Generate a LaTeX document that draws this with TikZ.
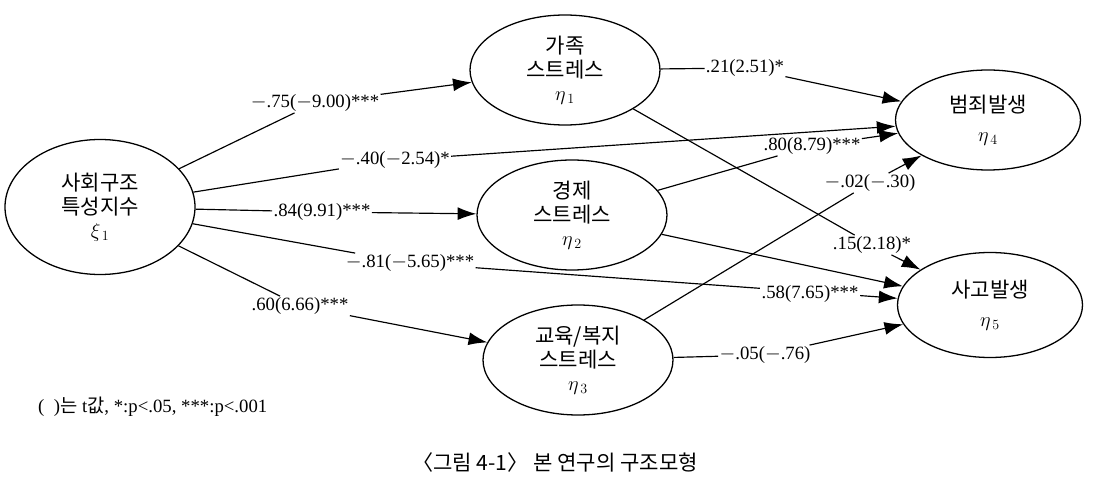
\documentclass[tikz,border=0pt]{standalone}
\usepackage{fontspec}
\setmainfont{Liberation Serif}
\newfontfamily\kr{Noto Sans CJK KR}
\usetikzlibrary{arrows.meta,shapes.geometric}
\begin{document}
\begin{tikzpicture}[x=0.03cm,y=-0.03cm,
  lat/.style={draw,line width=1.1pt,ellipse,inner sep=0pt,minimum width=190*0.03cm,minimum height=110*0.03cm,align=center,font=\kr\fontsize{18}{21}\selectfont},
  lbl/.style={inner sep=1pt,font=\fontsize{16}{18}\selectfont},
  con/.style={line width=1pt,-{Latex[length=16pt,width=11pt]}}]
\useasboundingbox (0,0) rectangle (1107,482);
\node[lat,minimum height=135*0.03cm] (x1) at (100,207) {사회구조\\특성지수\\[-2pt]$\xi_{\,1}$};
\node[lat] (e1) at (565,70) {가족\\스트레스\\[-2pt]$\eta_{\,1}$};
\node[lat] (e2) at (572,215) {경제\\스트레스\\[-2pt]$\eta_{\,2}$};
\node[lat] (e3) at (578,360) {교육/복지\\스트레스\\[-2pt]$\eta_{\,3}$};
\node[lat,minimum width=185*0.03cm,minimum height=100*0.03cm] (e4) at (988,120) {범죄발생\\[4pt]$\eta_{\,4}$};
\node[lat,minimum width=185*0.03cm,minimum height=105*0.03cm] (e5) at (990,305) {사고발생\\[4pt]$\eta_{\,5}$};
\node[lbl] (l1) at (315,103) {$-$.75($-$9.00)***};
\node[lbl] (l2) at (395,160) {$-$.40($-$2.54)*};
\node[lbl] (l3) at (322,212) {.84(9.91)***};
\node[lbl] (l4) at (410,263) {$-$.81($-$5.65)***};
\node[lbl] (l5) at (300,306) {.60(6.66)***};
\node[lbl] (l6) at (745,68) {.21(2.51)*};
\node[lbl] (l7) at (872,245) {.15(2.18)*};
\node[lbl] (l8) at (812,146) {.80(8.79)***};
\node[lbl] (l10) at (870,183) {$-$.02($-$.30)};
\node[lbl] (l11) at (765,355) {$-$.05($-$.76)};
\draw[con] (x1) -- (l1) -- (e1);
\draw[con] (x1) -- (l2) -- (e4);
\draw[con] (x1) -- (l3) -- (e2);
\draw[con] (x1) -- (l4) -- (e5);
\draw[con] (x1) -- (l5) -- (e3);
\draw[con] (e1) -- (l6) -- (e4);
\draw[con] (e1) -- (l7) -- (e5);
\draw[con] (e2) -- (l8) -- (e4);
\draw[con] (e2) -- (e5);
\node[lbl,fill=white] (l9) at (810,294) {.58(7.65)***};
\draw[con] (e3) -- (l10) -- (e4);
\draw[con] (e3) -- (l11) -- (e5);
\node[anchor=west,inner sep=0pt,font=\fontsize{16}{18}\selectfont] (leg) at (38,407) {(\ \ )\kr 는\rmfamily{} t\kr 값\rmfamily, *:p<.05, ***:p<.001};
\node[font=\kr\fontsize{18}{21}\selectfont] (cap) at (555,462) {〈그림 4-1〉 본 연구의 구조모형};
\end{tikzpicture}
\end{document}
